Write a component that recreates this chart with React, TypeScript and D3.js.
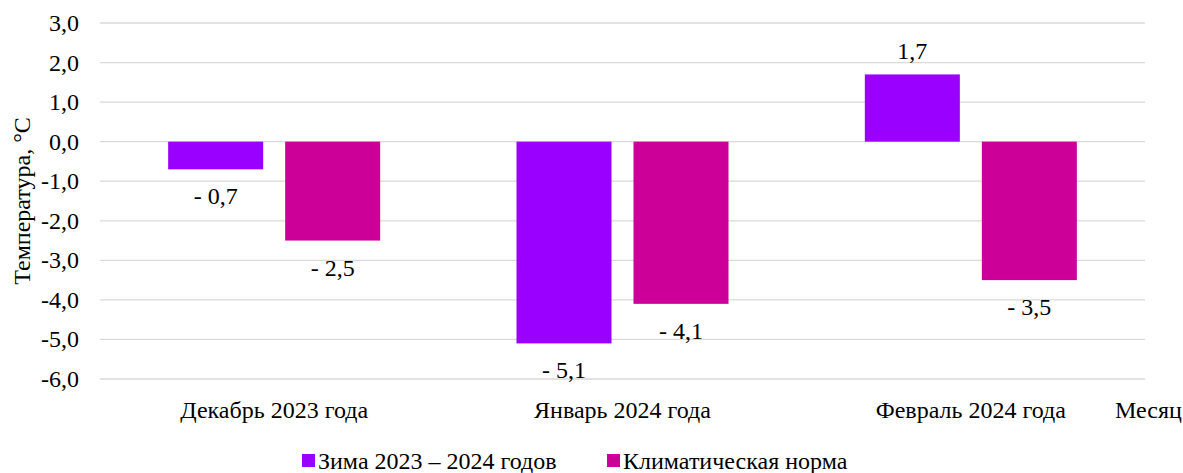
import React from "react";
import * as d3 from "d3";

const months = ["Декабрь 2023 года", "Январь 2024 года", "Февраль 2024 года"];
const winter = [-0.7, -5.1, 1.7];
const norm = [-2.5, -4.1, -3.5];
const seriesNames = ["Зима 2023 – 2024 годов", "Климатическая норма"];
const seriesColors = ["#9900FF", "#CC0099"];
const yTicks = [3, 2, 1, 0, -1, -2, -3, -4, -5, -6];

const W = 1183;
const H = 473;
const margin = { left: 100, right: 38, top: 23, bottom: 94 };
const textStyle = { fontFamily: "'Liberation Serif', serif", fontSize: "24px" };

const fmtTick = (v: number) => v.toFixed(1).replace(".", ",");
const fmtLabel = (v: number) =>
  v < 0 ? "- " + Math.abs(v).toFixed(1).replace(".", ",") : v.toFixed(1).replace(".", ",");

export default function App() {
  const x0 = d3
    .scaleBand<string>()
    .domain(months)
    .range([margin.left, W - margin.right]);
  const pairHalf = 106;
  const x1 = d3
    .scaleBand<number>()
    .domain([0, 1])
    .range([x0.bandwidth() / 2 - pairHalf, x0.bandwidth() / 2 + pairHalf])
    .paddingInner(22 / 117);
  const y = d3.scaleLinear().domain([-6, 3]).range([H - margin.bottom, margin.top]);

  const series = [winter, norm];
  const legendX = [302, 607];

  return (
    <svg width={W} height={H} style={{ display: "block", position: "absolute", left: 0, top: 0 }}>
      <rect x={0} y={0} width={W} height={H} fill="#fff" />
      {yTicks.map((t) => (
        <g key={t}>
          <line
            x1={margin.left}
            x2={W - margin.right}
            y1={y(t)}
            y2={y(t)}
            stroke="#d9d9d9"
            strokeWidth={1.3}
          />
          <text
            x={79}
            y={y(t)}
            textAnchor="end"
            dominantBaseline="central"
            style={textStyle}
            fill="#000"
          >
            {fmtTick(t)}
          </text>
        </g>
      ))}
      <text
        transform={`translate(30,${201}) rotate(-90)`}
        textAnchor="middle"
        style={textStyle}
        fill="#000"
      >
        Температура, °C
      </text>
      {months.map((m, i) => (
        <g key={m}>
          {series.map((s, k) => {
            const v = s[i];
            const bx = (x0(m) as number) + (x1(k) as number);
            const bw = x1.bandwidth();
            const top = y(Math.max(0, v));
            const bottom = y(Math.min(0, v));
            const ly = v < 0 ? bottom + 27 : top - 23;
            return (
              <g key={k}>
                <rect x={bx} y={top} width={bw} height={bottom - top} fill={seriesColors[k]} />
                <text
                  x={bx + bw / 2}
                  y={ly}
                  textAnchor="middle"
                  dominantBaseline="central"
                  style={textStyle}
                  fill="#000"
                >
                  {fmtLabel(v)}
                </text>
              </g>
            );
          })}
          <text
            x={(x0(m) as number) + x0.bandwidth() / 2}
            y={410}
            textAnchor="middle"
            dominantBaseline="central"
            style={textStyle}
            fill="#000"
          >
            {m}
          </text>
        </g>
      ))}
      <text x={1115} y={410} dominantBaseline="central" style={textStyle} fill="#000">
        Месяц
      </text>
      {seriesNames.map((n, k) => {
        const lx = legendX[k];
        return (
          <g key={n}>
            <rect x={lx} y={454} width={13} height={13} fill={seriesColors[k]} />
            <text x={lx + 16} y={461} dominantBaseline="central" style={textStyle} fill="#000">
              {n}
            </text>
          </g>
        );
      })}
    </svg>
  );
}
